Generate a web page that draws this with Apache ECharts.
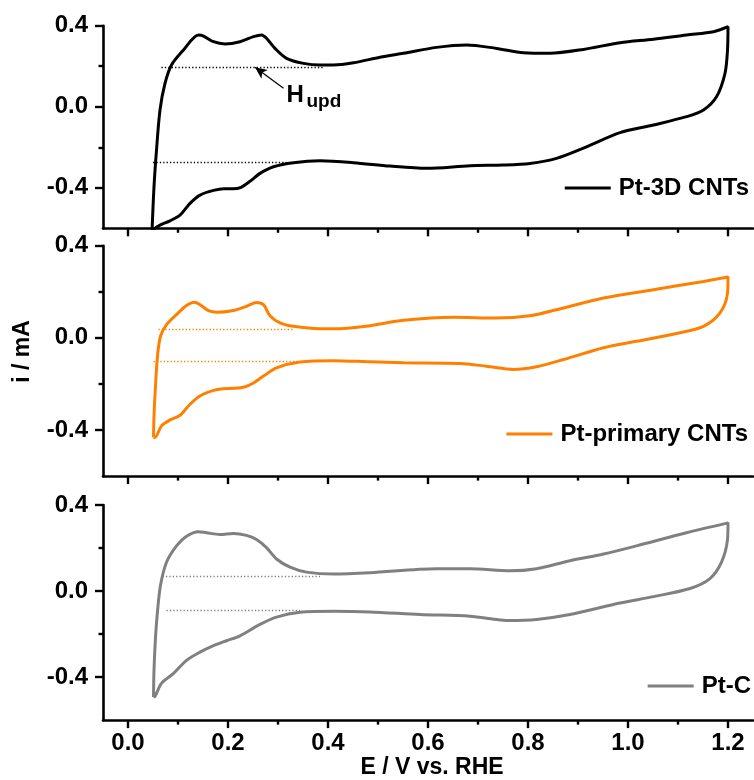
<!DOCTYPE html>
<html>
<head>
<meta charset="utf-8">
<script src="https://cdn.jsdelivr.net/npm/echarts@6/dist/echarts.min.js"></script>
<style>
html,body{margin:0;padding:0;background:#fff;}
#chart{width:754px;height:780px;}
</style>
</head>
<body>
<div id="chart"></div>
<script>
// ---------------- data ----------------
const seriesNames = ['Pt-3D CNTs', 'Pt-primary CNTs', 'Pt-C'];
const seriesColors = ['#000000', '#FF8000', '#808080'];

// Pt-3D CNTs : potential (V vs RHE) and current (mA), closed CV loop
const E3D = [0.048,0.052,0.057,0.064,0.074,0.087,0.111,0.141,0.151,0.171,0.194,0.224,0.251,0.267,0.277,0.294,0.317,0.351,0.384,0.411,0.451,0.504,0.551,0.617,0.677,0.737,0.791,0.844,0.911,0.984,1.051,1.117,1.171,1.2,
             1.199,1.194,1.177,1.151,1.117,1.051,0.984,0.917,0.857,0.804,0.751,0.684,0.597,0.524,0.451,0.384,0.331,0.291,0.264,0.244,0.226,0.21,0.192,0.171,0.144,0.124,0.104,0.084,0.064,0.054,0.048];
const I3D = [-0.62,-0.395,-0.214,-0.016,0.115,0.206,0.28,0.354,0.349,0.321,0.31,0.321,0.346,0.354,0.338,0.288,0.239,0.214,0.206,0.206,0.217,0.244,0.264,0.293,0.305,0.288,0.267,0.264,0.283,0.316,0.333,0.354,0.370,0.395,
             0.28,0.165,0.049,-0.016,-0.049,-0.090,-0.128,-0.198,-0.255,-0.28,-0.288,-0.291,-0.304,-0.293,-0.276,-0.267,-0.276,-0.296,-0.329,-0.368,-0.398,-0.405,-0.405,-0.413,-0.436,-0.477,-0.535,-0.563,-0.584,-0.60,-0.62];

// Pt-primary CNTs
const EPR = [0.051,0.052,0.055,0.059,0.065,0.077,0.097,0.117,0.133,0.144,0.161,0.177,0.211,0.237,0.257,0.271,0.284,0.304,0.331,0.384,0.424,0.484,0.551,0.651,0.737,0.804,0.857,0.951,1.051,1.151,1.2,
             1.199,1.184,1.151,1.097,1.017,0.951,0.871,0.817,0.771,0.717,0.664,0.551,0.484,0.411,0.344,0.297,0.271,0.251,0.233,0.212,0.19,0.171,0.144,0.124,0.104,0.084,0.067,0.054,0.051];
const IPR = [-0.432,-0.339,-0.209,-0.079,0.007,0.057,0.101,0.14,0.155,0.144,0.118,0.111,0.119,0.137,0.154,0.144,0.096,0.065,0.050,0.040,0.040,0.053,0.076,0.089,0.086,0.096,0.122,0.173,0.209,0.245,0.264,
             0.194,0.108,0.05,0.019,-0.015,-0.043,-0.094,-0.125,-0.137,-0.123,-0.111,-0.108,-0.104,-0.099,-0.105,-0.130,-0.166,-0.196,-0.213,-0.219,-0.221,-0.228,-0.252,-0.288,-0.336,-0.356,-0.382,-0.432,-0.432];

// Pt-C
const EC = [0.051,0.052,0.055,0.059,0.065,0.077,0.097,0.117,0.141,0.157,0.184,0.211,0.237,0.257,0.277,0.297,0.324,0.357,0.411,0.484,0.617,0.684,0.764,0.817,0.884,0.951,1.017,1.117,1.2,
            1.199,1.187,1.164,1.124,1.051,0.984,0.884,0.817,0.764,0.684,0.584,0.484,0.411,0.344,0.297,0.264,0.224,0.197,0.171,0.144,0.117,0.091,0.067,0.054,0.051];
const IC = [-0.493,-0.368,-0.216,-0.094,0.027,0.134,0.21,0.255,0.276,0.271,0.263,0.268,0.259,0.240,0.202,0.149,0.111,0.088,0.079,0.085,0.104,0.104,0.094,0.104,0.141,0.172,0.210,0.271,0.317,
            0.240,0.134,0.058,0.012,-0.026,-0.056,-0.109,-0.132,-0.137,-0.117,-0.109,-0.097,-0.094,-0.099,-0.121,-0.155,-0.208,-0.231,-0.254,-0.284,-0.322,-0.383,-0.429,-0.490,-0.493];

// dotted H_upd baselines: [E start, E end, current]
const base3D = [[0.067, 0.39, 0.193], [0.05, 0.317, -0.275]];
const basePR = [[0.061, 0.33, 0.039], [0.051, 0.344, -0.101]];
const baseC  = [[0.069, 0.384, 0.070], [0.077, 0.344, -0.091]];

// H_upd arrow (tail -> head) and label anchors
const arrowTail = [0.311, 0.091];
const arrowHead = [0.254, 0.195];
const hLabelAt = [0.317, 0.057];
const subLabelAt = [0.357, 0.023];

// axis ticks
const xMajor = [0.0, 0.2, 0.4, 0.6, 0.8, 1.0, 1.2];
const xMinor = [0.1, 0.3, 0.5, 0.7, 0.9, 1.1];
const yMajor = [-0.4, 0.0, 0.4];
const yMinor = [-0.2, 0.2];

// ---------------- chart ----------------
const FONT = '"Liberation Sans", Arial, Helvetica, sans-serif';
const FS = 24;
const chart = echarts.init(document.getElementById('chart'), null, {renderer: 'canvas'});

const grids = [
  {left: 103, width: 650, top: 25.7, height: 202.6},
  {left: 103, width: 650, top: 245.7, height: 230.4},
  {left: 103, width: 650, top: 505, height: 219}
];

const axisLineStyle = {color: '#000', width: 2.6};
const xAxes = [], yAxes = [];
for (let g = 0; g < 3; g++) {
  xAxes.push({
    gridIndex: g, type: 'value', position: 'bottom', min: -0.05, max: 1.25,
    axisLine: {show: true, onZero: false, lineStyle: axisLineStyle},
    axisTick: {show: true, customValues: xMajor, length: 8, lineStyle: {color: '#000', width: 2.4}},
    axisLabel: {show: g === 2, customValues: xMajor, margin: 11, formatter: v => v.toFixed(1),
                color: '#000', fontSize: FS, fontWeight: 'bold', fontFamily: FONT},
    splitLine: {show: false},
    name: g === 2 ? 'E / V vs. RHE' : '',
    nameLocation: 'middle', nameGap: 33,
    nameTextStyle: {color: '#000', fontSize: 23, fontWeight: 'bold', fontFamily: FONT, padding: [0, 0, 0, 8]}
  });
  yAxes.push({
    gridIndex: g, type: 'value', position: 'left', min: -0.6, max: 0.4,
    axisLine: {show: true, onZero: false, lineStyle: axisLineStyle},
    axisTick: {show: true, customValues: yMajor, length: 8, lineStyle: {color: '#000', width: 2.4}},
    axisLabel: {show: true, customValues: yMajor, margin: 15, formatter: v => v.toFixed(1),
                color: '#000', fontSize: FS, fontWeight: 'bold', fontFamily: FONT},
    splitLine: {show: false}
  });
}
for (let g = 0; g < 3; g++) {
  xAxes.push({
    gridIndex: g, type: 'value', position: 'bottom', min: -0.05, max: 1.25,
    axisLine: {show: false, onZero: false},
    axisTick: {show: true, customValues: xMinor, length: 4.5, lineStyle: {color: '#000', width: 2.4}},
    axisLabel: {show: false}, splitLine: {show: false}
  });
  yAxes.push({
    gridIndex: g, type: 'value', position: 'left', min: -0.6, max: 0.4,
    axisLine: {show: false, onZero: false},
    axisTick: {show: true, customValues: yMinor, length: 4.5, lineStyle: {color: '#000', width: 2.4}},
    axisLabel: {show: false}, splitLine: {show: false}
  });
}

function pairs(E, I) { return E.map((e, k) => [e, I[k]]); }
function dotted(bases, color) {
  return bases.map(b => [
    {coord: [b[0], b[2]], lineStyle: {color: color, width: 1.3, type: [1.3, 2.1]}},
    {coord: [b[1], b[2]]}
  ]);
}

const curves = [pairs(E3D, I3D), pairs(EPR, IPR), pairs(EC, IC)];
const bases = [base3D, basePR, baseC];

const series = curves.map((d, g) => {
  const s = {
    name: seriesNames[g], type: 'line', xAxisIndex: g, yAxisIndex: g,
    data: d, smooth: 0.3, symbol: 'none', showSymbol: false, clip: true,
    color: seriesColors[g],
    itemStyle: {color: seriesColors[g]},
    lineStyle: {color: seriesColors[g], width: 3},
    markLine: {
      silent: true, symbol: ['none', 'none'], label: {show: false},
      lineStyle: {color: seriesColors[g], width: 1.3, type: [1.3, 2.1]},
      data: dotted(bases[g], seriesColors[g])
    }
  };
  if (g === 0) {
    s.markLine.data.push([
      {coord: arrowTail, symbol: 'none', lineStyle: {color: '#000', width: 1.2, type: 'solid'}},
      {coord: arrowHead, symbol: 'arrow', symbolSize: [8, 12]}
    ]);
    s.markPoint = {
      silent: true, symbol: 'circle', symbolSize: 0,
      itemStyle: {color: 'transparent'},
      label: {show: true, position: 'right', distance: 0, color: '#000', fontWeight: 'bold', fontFamily: FONT},
      data: [
        {coord: hLabelAt, label: {formatter: 'H', fontSize: 24}},
        {coord: subLabelAt, label: {formatter: 'upd', fontSize: 19}}
      ]
    };
  }
  return s;
});

const legendTops = [176, 422, 674];
const legendRights = [5, 6, 3];
const legends = seriesNames.map((n, g) => ({
  data: [n], right: legendRights[g], top: legendTops[g], padding: 0,
  icon: 'rect', itemWidth: 46, itemHeight: 3, itemGap: 0, selectedMode: false,
  textStyle: {color: '#000', fontSize: FS, fontWeight: 'bold', fontFamily: FONT, padding: [0, 0, 0, 3]}
}));

chart.setOption({
  animation: false,
  backgroundColor: '#fff',
  grid: grids,
  xAxis: xAxes,
  yAxis: yAxes,
  legend: legends,
  series: series,
  graphic: [{
    type: 'text', x: 22.5, y: 351.5, rotation: Math.PI / 2,
    style: {text: 'i / mA', fill: '#000', font: 'bold 23px ' + FONT, align: 'center', verticalAlign: 'middle'}
  }]
});
</script>
</body>
</html>
